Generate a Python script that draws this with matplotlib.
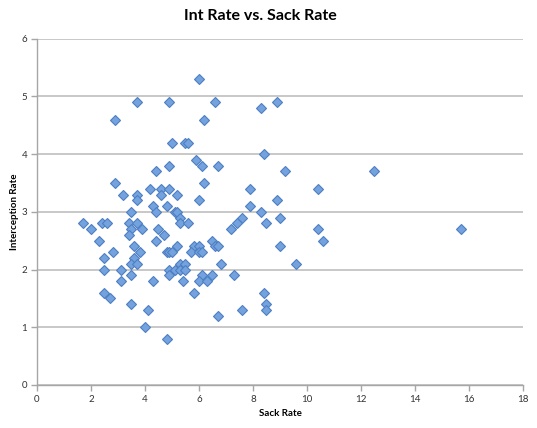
import matplotlib
matplotlib.use("Agg")
import matplotlib.pyplot as plt

sack_rate = [
    6.0, 3.7, 4.9, 6.6, 8.9, 8.3, 2.9, 6.2, 5.0, 5.5, 5.6, 8.4,
    5.9, 6.1, 4.9, 6.7, 4.4, 9.2, 12.5, 2.9, 6.2,
    4.2, 4.6, 4.9, 7.9, 10.4, 3.2, 3.7, 4.6, 5.2, 3.7, 6.0, 8.9,
    4.3, 4.8, 7.9, 3.5, 4.4, 5.1, 5.2, 8.3,
    5.3, 7.6, 9.0, 1.7, 2.4, 2.6, 3.4, 3.7, 5.3, 5.6, 7.4, 8.5,
    2.0, 3.5, 3.9, 4.5, 7.2, 10.4, 15.7, 3.4, 4.7, 2.3, 4.4, 6.5, 10.6,
    3.6, 5.2, 5.8, 6.0, 6.6, 6.7, 9.0,
    2.8, 3.8, 4.8, 4.9, 5.0, 5.7, 6.0, 6.1, 2.5, 3.6,
    3.5, 3.7, 5.3, 5.5, 6.8, 9.6, 2.5, 3.1, 4.9, 5.1, 5.3, 5.5,
    3.5, 4.9, 6.1, 6.5, 7.3, 3.1, 4.3, 5.4, 6.0, 6.3,
    2.5, 5.8, 8.4, 2.7, 3.5, 8.5, 4.1, 7.6, 8.5, 6.7, 4.0, 4.8,
]
int_rate = [
    5.3, 4.9, 4.9, 4.9, 4.9, 4.8, 4.6, 4.6, 4.2, 4.2, 4.2, 4.0,
    3.9, 3.8, 3.8, 3.8, 3.7, 3.7, 3.7, 3.5, 3.5,
    3.4, 3.4, 3.4, 3.4, 3.4, 3.3, 3.3, 3.3, 3.3, 3.2, 3.2, 3.2,
    3.1, 3.1, 3.1, 3.0, 3.0, 3.0, 3.0, 3.0,
    2.9, 2.9, 2.9, 2.8, 2.8, 2.8, 2.8, 2.8, 2.8, 2.8, 2.8, 2.8,
    2.7, 2.7, 2.7, 2.7, 2.7, 2.7, 2.7, 2.6, 2.6, 2.5, 2.5, 2.5, 2.5,
    2.4, 2.4, 2.4, 2.4, 2.4, 2.4, 2.4,
    2.3, 2.3, 2.3, 2.3, 2.3, 2.3, 2.3, 2.3, 2.2, 2.2,
    2.1, 2.1, 2.1, 2.1, 2.1, 2.1, 2.0, 2.0, 2.0, 2.0, 2.0, 2.0,
    1.9, 1.9, 1.9, 1.9, 1.9, 1.8, 1.8, 1.8, 1.8, 1.8,
    1.6, 1.6, 1.6, 1.5, 1.4, 1.4, 1.3, 1.3, 1.3, 1.2, 1.0, 0.8,
]

title = "Int Rate vs. Sack Rate"
x_label = "Sack Rate"
y_label = "Interception Rate"
x_ticks = [0, 2, 4, 6, 8, 10, 12, 14, 16, 18]
y_ticks = [0, 1, 2, 3, 4, 5, 6]

plt.rcParams['font.family'] = ['Lato', 'DejaVu Sans']

fig = plt.figure(figsize=(5.37, 4.28), dpi=100)
ax = fig.add_axes([0.0689, 0.1005, 0.905, 0.809])

ax.plot(sack_rate, int_rate, linestyle='none', marker='D', markersize=5.2,
        markerfacecolor='#73a2de', markeredgecolor='#4d7fc2',
        markeredgewidth=0.8, zorder=3)

ax.set_xlim(0, 18)
ax.set_ylim(0, 6)
ax.set_xticks(x_ticks)
ax.set_yticks(y_ticks)
ax.set_xticklabels([str(t) for t in x_ticks])
ax.set_yticklabels([str(t) for t in y_ticks])

ax.grid(axis='y', color='#c4c4c4', linewidth=1.3, zorder=0)
ax.grid(axis='x', visible=False)
ax.set_axisbelow(True)

for s in ['top', 'right']:
    ax.spines[s].set_visible(False)
for s in ['left', 'bottom']:
    ax.spines[s].set_color('#a6a6a6')
    ax.spines[s].set_linewidth(1.0)

ax.tick_params(axis='both', direction='out', length=4, width=1.0,
               color='#a6a6a6', labelsize=7, labelcolor='#333333', pad=3)

ax.set_xlabel(x_label, fontsize=7, fontweight='bold', labelpad=4)
ax.set_ylabel(y_label, fontsize=7, fontweight='bold', labelpad=2)
fig.text(0.484, 0.962, title, ha='center', va='center',
         fontsize=11.5, fontweight='bold')

fig.savefig("out.png", dpi=100)
